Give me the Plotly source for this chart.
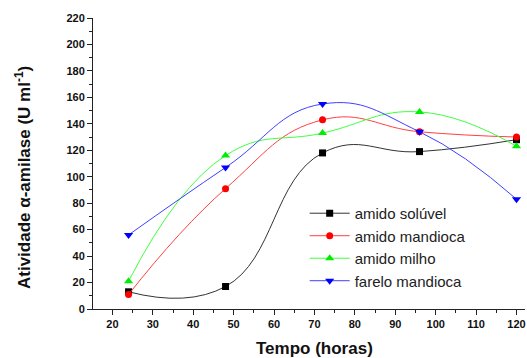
import plotly.graph_objects as go

tempo = [24, 48, 72, 96, 120]
amido_soluvel = [13, 17, 118, 119, 128]
amido_mandioca = [11, 91, 143, 134, 130]
amido_milho = [21, 116, 133, 149, 123]
farelo_mandioca = [56, 107, 155, 134, 83]

series = [
    ("amido solúvel", amido_soluvel, "#333333", "#000000", "square", 7),
    ("amido mandioca", amido_mandioca, "#ff4040", "#ff0000", "circle", 7),
    ("amido milho", amido_milho, "#40ff40", "#00ee00", "triangle-up", 8),
    ("farelo mandioca", farelo_mandioca, "#4040ff", "#0000ff", "triangle-down", 8),
]

fig = go.Figure()
for name, ys, lc, mc, sym, ms in series:
    fig.add_trace(go.Scatter(
        x=tempo, y=ys, name=name, mode="lines+markers",
        line=dict(color=lc, width=1, shape="spline", smoothing=1.3),
        marker=dict(color=mc, symbol=sym, size=ms),
    ))

fig.update_layout(
    width=527, height=358,
    margin=dict(l=93, r=2, t=18, b=49),
    paper_bgcolor="white", plot_bgcolor="white",
    font=dict(family="Liberation Sans, Arial", color="#222222"),
    showlegend=True,
    legend=dict(x=0.49, y=0.385, xanchor="left", yanchor="top",
                font=dict(size=15, color="#222222"), bgcolor="rgba(0,0,0,0)",
                itemwidth=40, tracegroupgap=0),
    xaxis=dict(range=[15.2, 122.1], tickvals=list(range(20, 121, 10)),
               ticks="outside", ticklen=5, tickcolor="#222", showline=True,
               linecolor="#222", linewidth=1, showgrid=False, zeroline=False,
               minor=dict(tickvals=list(range(25, 121, 10)), ticks="outside", ticklen=3, tickcolor="#222"),
               tickfont=dict(family="Liberation Sans, Arial", size=11, color="#111", weight="bold")),
    yaxis=dict(range=[0, 220], tickvals=list(range(0, 221, 20)),
               ticks="outside", ticklen=5, tickcolor="#222", showline=True,
               linecolor="#222", linewidth=1, showgrid=False, zeroline=False,
               minor=dict(tickvals=list(range(10, 220, 20)), ticks="outside", ticklen=3, tickcolor="#222"),
               tickfont=dict(family="Liberation Sans, Arial", size=11, color="#111", weight="bold")),
    annotations=[
        dict(text="<b>Tempo (horas)</b>", xref="paper", yref="paper",
             x=(314 - 93) / 432, y=-(348 - 309) / 291, xanchor="center", yanchor="middle",
             showarrow=False, font=dict(size=17, color="#111")),
        dict(text="<b>Atividade α-amilase (U ml<sup>-1</sup>)</b>", xref="paper", yref="paper",
             x=(23 - 93) / 432, y=(309 - 178) / 291, xanchor="center", yanchor="middle",
             textangle=-90, showarrow=False, font=dict(size=17, color="#111")),
    ],
)

fig.write_html("out.html")
